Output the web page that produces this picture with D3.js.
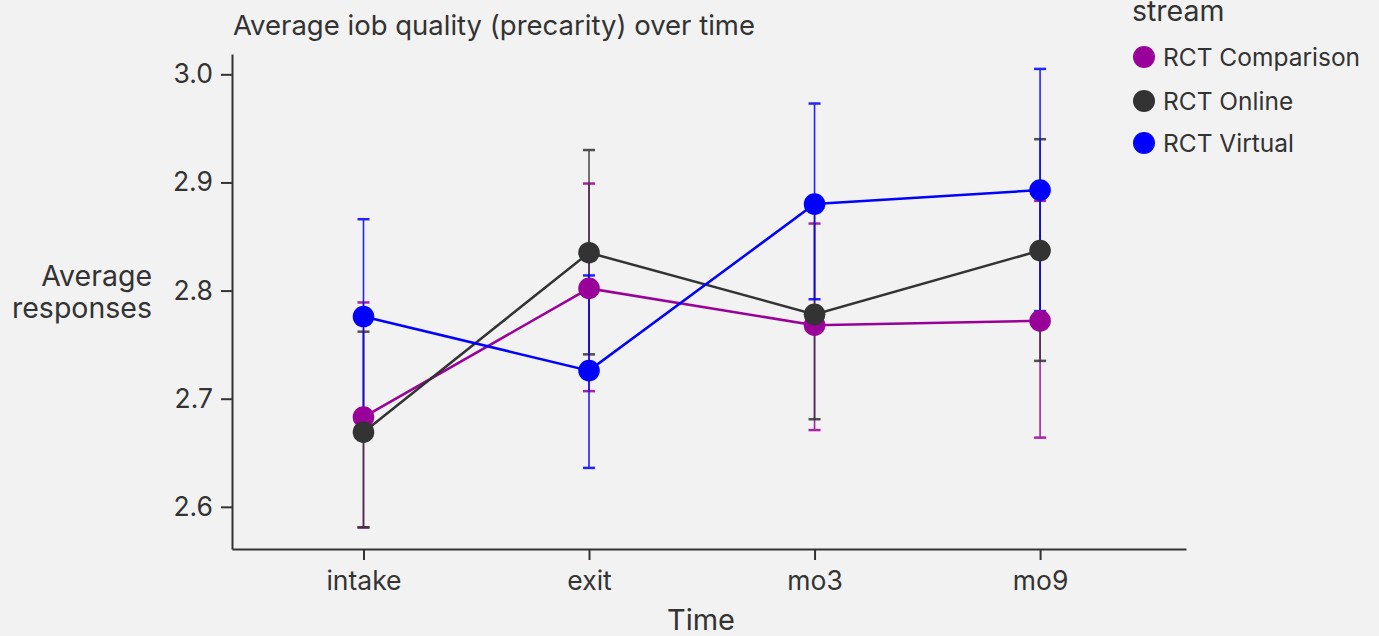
<!DOCTYPE html>
<html>
<head>
<meta charset="utf-8">
<script src="https://cdn.jsdelivr.net/npm/d3@7"></script>
<style>
  html, body { margin: 0; padding: 0; background: #f2f2f2; }
  svg text { font-family: Inter, "Liberation Sans", sans-serif; fill: #333; }
</style>
</head>
<body>
<div id="chart"></div>
<script>
var times = ["intake", "exit", "mo3", "mo9"];
var streams = ["RCT Comparison", "RCT Online", "RCT Virtual"];
var colors = ["#990099", "#333333", "#0000ff"];
var yTicks = [2.6, 2.7, 2.8, 2.9, 3.0];

// mean, lower, upper per time point
var comparisonMean = [2.683, 2.802, 2.768, 2.772];
var comparisonLow  = [2.581, 2.707, 2.671, 2.664];
var comparisonHigh = [2.789, 2.899, 2.862, 2.883];

var onlineMean = [2.669, 2.835, 2.778, 2.837];
var onlineLow  = [2.581, 2.741, 2.681, 2.735];
var onlineHigh = [2.762, 2.930, 2.875, 2.940];

var virtualMean = [2.776, 2.726, 2.880, 2.893];
var virtualLow  = [2.686, 2.636, 2.792, 2.781];
var virtualHigh = [2.866, 2.814, 2.973, 3.005];

var series = [
  {name: streams[0], color: colors[0], mean: comparisonMean, low: comparisonLow, high: comparisonHigh},
  {name: streams[1], color: colors[1], mean: onlineMean, low: onlineLow, high: onlineHigh},
  {name: streams[2], color: colors[2], mean: virtualMean, low: virtualLow, high: virtualHigh}
];

var width = 1379, height = 636;
var plot = {left: 232, right: 1186, top: 54, bottom: 549};

var svg = d3.select("#chart").append("svg")
  .attr("width", width)
  .attr("height", height);

// x: categories on an index scale
var xIdx = d3.scaleLinear().domain([-0.583, 3.647]).range([plot.left, plot.right]);
var x = function(t) { return xIdx(times.indexOf(t)); };

var y = d3.scaleLinear().domain([2.561, 3.0188]).range([plot.bottom, plot.top]);

// axes
var xAxis = d3.axisBottom(xIdx)
  .tickValues(d3.range(times.length))
  .tickFormat(function(i) { return times[i]; })
  .tickSize(11).tickPadding(6).tickSizeOuter(0);
var gx = svg.append("g")
  .attr("transform", "translate(0," + plot.bottom + ")")
  .call(xAxis);

var yAxis = d3.axisLeft(y)
  .tickValues(yTicks)
  .tickFormat(d3.format(".1f"))
  .tickSize(11).tickPadding(8).tickSizeOuter(0);
var gy = svg.append("g")
  .attr("transform", "translate(" + plot.left + ",0)")
  .call(yAxis);

[gx, gy].forEach(function(g) {
  g.select(".domain").attr("stroke", "#333").attr("stroke-width", 2);
  g.selectAll(".tick line").attr("stroke", "#333").attr("stroke-width", 2);
  g.selectAll(".tick text").attr("font-size", 26.5).attr("fill", "#333");
});
gx.selectAll(".tick text").attr("dy", "0.9em");

// error bars
var capW = 6;
series.forEach(function(s) {
  var g = svg.append("g").attr("stroke", s.color).attr("stroke-width", 1.6).attr("opacity", 0.85);
  times.forEach(function(t, i) {
    var cx = x(t);
    g.append("line").attr("x1", cx).attr("x2", cx).attr("y1", y(s.low[i])).attr("y2", y(s.high[i]));
    g.append("line").attr("x1", cx - capW).attr("x2", cx + capW).attr("y1", y(s.low[i])).attr("y2", y(s.low[i])).attr("stroke-width", 2.5);
    g.append("line").attr("x1", cx - capW).attr("x2", cx + capW).attr("y1", y(s.high[i])).attr("y2", y(s.high[i])).attr("stroke-width", 2.5);
  });
});

// lines + points
var line = d3.line()
  .x(function(d, i) { return x(times[i]); })
  .y(function(d) { return y(d); });

series.forEach(function(s) {
  svg.append("path")
    .datum(s.mean)
    .attr("fill", "none")
    .attr("stroke", s.color)
    .attr("stroke-width", 2.5)
    .attr("d", line);
  svg.selectAll(null)
    .data(s.mean)
    .enter()
    .append("circle")
      .attr("cx", function(d, i) { return x(times[i]); })
      .attr("cy", function(d) { return y(d); })
      .attr("r", 10.8)
      .attr("fill", s.color);
});

// titles
svg.append("text")
  .attr("x", 233).attr("y", 35)
  .attr("font-size", 27.5)
  .text("Average iob quality (precarity) over time");

svg.append("text")
  .attr("x", (plot.left + plot.right) / 2 - 8).attr("y", 630)
  .attr("text-anchor", "middle")
  .attr("font-size", 29)
  .text("Time");

var ylab = svg.append("text")
  .attr("text-anchor", "end")
  .attr("font-size", 28.5);
ylab.append("tspan").attr("x", 152).attr("y", 286).text("Average");
ylab.append("tspan").attr("x", 152).attr("y", 318).text("responses");

// legend
svg.append("text")
  .attr("x", 1132).attr("y", 21)
  .attr("font-size", 28.5)
  .text("stream");

var legendY = [57, 101, 143];
var legend = svg.selectAll("g.legend")
  .data(series)
  .enter()
  .append("g")
    .attr("class", "legend")
    .attr("transform", function(d, i) { return "translate(1144," + legendY[i] + ")"; });
legend.append("circle").attr("r", 11).attr("fill", function(d) { return d.color; });
legend.append("text")
  .attr("x", 19).attr("dy", "0.35em")
  .attr("font-size", 24.5)
  .text(function(d) { return d.name; });
</script>
</body>
</html>
